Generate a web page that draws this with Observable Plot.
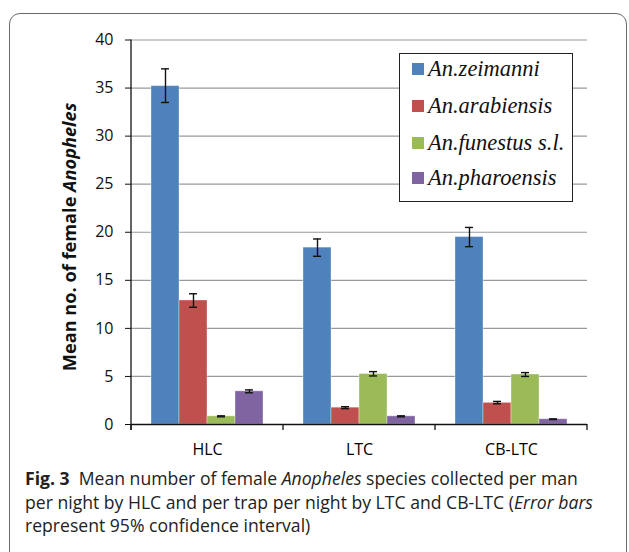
<!DOCTYPE html>
<html>
<head>
<meta charset="utf-8">
<script src="https://cdn.jsdelivr.net/npm/d3@7"></script>
<script src="https://cdn.jsdelivr.net/npm/@observablehq/plot@0.6"></script>
<style>
  html, body { margin: 0; padding: 0; background: #fff; }
  body { position: relative; width: 629px; height: 552px; overflow: hidden; }
  #frame { position: absolute; left: 9px; top: 13px; width: 618px; height: 600px;
           border: 1.2px solid #6b6b6b; border-radius: 11px; box-sizing: border-box; }
  #chart { position: absolute; left: 0; top: 0; }
  #legend { position: absolute; left: 399px; top: 53px; width: 174px; height: 149px;
            border: 1.6px solid #222; background: #fff; box-sizing: border-box;
            font-family: "Liberation Serif", "DejaVu Serif", serif; font-style: italic; font-size: 22.5px; color: #111; }
  .item { position: absolute; left: 12px; display: flex; align-items: center; white-space: nowrap; }
  .sw { width: 12px; height: 12px; margin-right: 4px; }
  #caption { position: absolute; left: 25px; top: 467px; width: 600px;
             font-family: "Open Sans", sans-serif; font-size: 17.6px; line-height: 23.5px; color: #222; white-space: nowrap; }
</style>
</head>
<body>
<div id="frame"></div>
<div id="chart"></div>
<div id="legend"></div>
<div id="caption"><b>Fig. 3</b>&nbsp; Mean number of female <i>Anopheles</i> species collected per man<br>per night by HLC and per trap per night by LTC and CB-LTC (<i>Error bars</i><br>represent 95% confidence interval)</div>
<script>
// ---- data ----
const categories = ["HLC", "LTC", "CB-LTC"];
const species = ["An.zeimanni", "An.arabiensis", "An.funestus s.l.", "An.pharoensis"];
const colors = ["#4F81BD", "#C0504D", "#9BBB59", "#8064A2"];

// means per species, in order of categories
const zeimanniMean   = [35.2, 18.4, 19.5];
const arabiensisMean = [12.9, 1.75, 2.25];
const funestusMean   = [0.85, 5.25, 5.2];
const pharoensisMean = [3.45, 0.85, 0.55];

// 95% CI lower / upper
const zeimanniLo   = [33.5, 17.5, 18.5];
const zeimanniHi   = [37.0, 19.3, 20.5];
const arabiensisLo = [12.2, 1.65, 2.15];
const arabiensisHi = [13.6, 1.85, 2.4];
const funestusLo   = [0.8, 5.05, 5.0];
const funestusHi   = [0.9, 5.5, 5.4];
const pharoensisLo = [3.3, 0.8, 0.52];
const pharoensisHi = [3.6, 0.9, 0.58];

const yTicks = [0, 5, 10, 15, 20, 25, 30, 35, 40];

const means = [zeimanniMean, arabiensisMean, funestusMean, pharoensisMean];
const los = [zeimanniLo, arabiensisLo, funestusLo, pharoensisLo];
const his = [zeimanniHi, arabiensisHi, funestusHi, pharoensisHi];

const data = [];
categories.forEach((c, ci) => species.forEach((s, si) => {
  data.push({cat: c, sp: s, mean: means[si][ci], lo: los[si][ci], hi: his[si][ci]});
}));

const chart = Plot.plot({
  width: 629,
  height: 470,
  marginLeft: 131,
  marginRight: 42,
  marginTop: 39.5,
  marginBottom: 46,
  style: {fontFamily: "'Open Sans', sans-serif", background: "transparent", color: "#111"},
  fx: {domain: categories, padding: 0, label: null},
  x: {domain: species, paddingInner: 0, paddingOuter: 0.71, axis: null},
  y: {domain: [0, 40], label: null},
  color: {domain: species, range: colors},
  marks: [
    Plot.gridY(yTicks, {stroke: "#9a9a9a", strokeOpacity: 1, strokeWidth: 1.2}),
    Plot.barY(data, {fx: "cat", x: "sp", y: "mean", fill: "sp", stroke: "#ffffff", strokeOpacity: 0.35, strokeWidth: 1}),
    Plot.ruleX(data, {fx: "cat", x: "sp", y1: "lo", y2: "hi", stroke: "#111", strokeWidth: 1.4}),
    Plot.tickY(data, {fx: "cat", x: "sp", y: "lo", stroke: "#111", strokeWidth: 1.4, insetLeft: 10, insetRight: 10}),
    Plot.tickY(data, {fx: "cat", x: "sp", y: "hi", stroke: "#111", strokeWidth: 1.4, insetLeft: 10, insetRight: 10}),
    Plot.ruleY([0], {stroke: "#111", strokeWidth: 1.3}),
    Plot.axisY({ticks: yTicks, tickSize: 6, tickPadding: 12, fontSize: 16, label: null, stroke: "#111"}),
    Plot.axisFx({anchor: "bottom", tickSize: 0, tickPadding: 19, fontSize: 16, label: null, fill: "#000"})
  ]
});
document.getElementById("chart").appendChild(chart);

// extra axis decorations, positioned through the plot's own scales
const fx = chart.scale("fx");
const y = chart.scale("y");
const svg = d3.select(chart);
const y0 = y.apply(0), yTop = y.apply(40);
const left = fx.apply(categories[0]);
const bw = fx.bandwidth;
svg.append("line").attr("x1", left).attr("x2", left).attr("y1", yTop).attr("y2", y0 + 6)
  .attr("stroke", "#111").attr("stroke-width", 1.3);
const bounds = categories.map(c => fx.apply(c)).concat([fx.apply(categories[categories.length - 1]) + bw]);
svg.append("g").selectAll("line").data(bounds).join("line")
  .attr("x1", d => d).attr("x2", d => d).attr("y1", y0).attr("y2", y0 + 6)
  .attr("stroke", "#111").attr("stroke-width", 1.3);

// y-axis title with italic part
const tx = 76, ty = 237;
const t = svg.append("text")
  .attr("transform", `translate(${tx},${ty}) rotate(-90)`)
  .attr("text-anchor", "middle")
  .attr("font-family", "'Open Sans', sans-serif")
  .attr("font-weight", "bold").attr("font-size", 18.2).attr("fill", "#111");
t.append("tspan").text("Mean no. of female ");
t.append("tspan").attr("font-style", "italic").text("Anopheles");

// legend
const legend = document.getElementById("legend");
const rowCenters = [70, 107, 144, 179];
species.forEach((s, i) => {
  const it = document.createElement("div");
  it.className = "item";
  it.style.top = (rowCenters[i] - 53 - 1.6 - 14) + "px";
  it.style.height = "28px";
  it.innerHTML = `<span class="sw" style="background:${colors[i]}"></span><span>${s}</span>`;
  legend.appendChild(it);
});
</script>
</body>
</html>
